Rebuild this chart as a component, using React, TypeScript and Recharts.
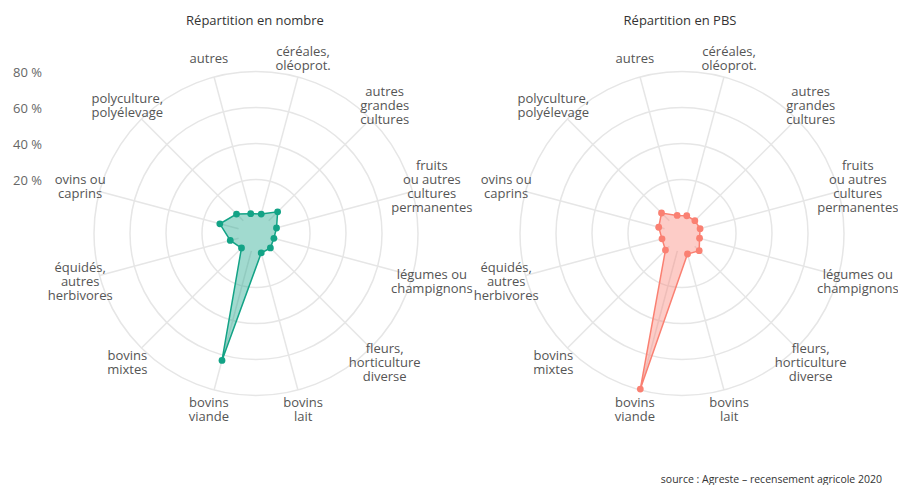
import { RadarChart, Radar, PolarGrid, PolarAngleAxis, PolarRadiusAxis } from "recharts";

// axes, dans le sens horaire à partir de "autres"
const categories = [
  "autres",
  "céréales,\noléoprot.",
  "autres\ngrandes\ncultures",
  "fruits\nou autres\ncultures\npermanentes",
  "légumes ou\nchampignons",
  "fleurs,\nhorticulture\ndiverse",
  "bovins\nlait",
  "bovins\nviande",
  "bovins\nmixtes",
  "équidés,\nautres\nherbivores",
  "ovins ou\ncaprins",
  "polyculture,\npolyélevage",
];

// % des exploitations (nombre)
const nombreValues = [1.4, 1.2, 7.0, 1.8, 0.3, 1.3, 1.2, 63, 1.4, 4.8, 10.8, 5.3];
// % de la production brute standard
const pbsValues = [0.4, 0.2, 0.1, 0.4, 0.1, 3.5, 1.8, 79.5, 3.0, 1.5, 3.4, 6.1];

const radiusTicks = [20, 40, 60, 80];

const data = categories.map((categorie, i) => ({
  categorie,
  nombre: nombreValues[i],
  pbs: pbsValues[i],
}));

const TEAL = "#13a386";
const SALMON = "#fa8072";
const GRID = "#e6e6e6";
const LABEL = "#555";

// one <text> per line so the lines don't stack in a single box
function CategoryTick(props: any) {
  const { x, y, payload } = props;
  const lines = String(payload.value).split("\n");
  const lh = 14;
  const y0 = y - ((lines.length - 1) * lh) / 2;
  return (
    <g>
      {lines.map((l, i) => (
        <text
          key={i}
          x={x}
          y={y0 + i * lh}
          textAnchor="middle"
          dominantBaseline="central"
          fill={LABEL}
          fontSize={13}
        >
          {l}
        </text>
      ))}
    </g>
  );
}

function PercentTick(props: any) {
  const { y, payload } = props;
  return (
    <text x={13} y={y} dominantBaseline="central" fill="#666" fontSize={13}>
      {payload.value} %
    </text>
  );
}

function Radial({
  dataKey,
  color,
  width,
  cx,
  showPercent,
}: {
  dataKey: string;
  color: string;
  width: number;
  cx: number;
  showPercent: boolean;
}) {
  return (
    <RadarChart
      width={width}
      height={485}
      data={data}
      cx={cx}
      cy={233.5}
      innerRadius={18}
      outerRadius={162}
      startAngle={105}
      endAngle={-255}
      margin={{ top: 0, right: 0, bottom: 0, left: 0 }}
    >
      <PolarGrid gridType="circle" stroke={GRID} strokeWidth={1.5} />
      <PolarAngleAxis
        dataKey="categorie"
        tick={<CategoryTick />}
        tickLine={false}
        axisLine={false}
        tickSize={20}
      />
      <PolarRadiusAxis
        angle={90}
        domain={[0, 80]}
        ticks={radiusTicks}
        type="number"
        axisLine={false}
        tickLine={false}
        tick={showPercent ? <PercentTick /> : false}
      />
      <Radar
        dataKey={dataKey}
        stroke={color}
        strokeWidth={1.5}
        fill={color}
        fillOpacity={0.4}
        dot={{ r: 3.4, fill: color, fillOpacity: 1, stroke: color, strokeWidth: 0 }}
        isAnimationActive={false}
      />
    </RadarChart>
  );
}

export default function App() {
  const titleStyle: React.CSSProperties = {
    position: "absolute",
    top: 10,
    width: 300,
    textAlign: "center",
    fontSize: 13,
    fontWeight: 500,
    color: "#333",
    lineHeight: "20px",
  };
  return (
    <div
      style={{
        position: "absolute",
        left: 0,
        top: 0,
        width: 898,
        height: 485,
        background: "#fff",
        fontFamily: "'Open Sans', sans-serif",
        overflow: "hidden",
      }}
    >
      <div style={{ position: "absolute", left: 0, top: 0 }}>
        <Radial dataKey="nombre" color={TEAL} width={474} cx={256} showPercent />
      </div>
      <div style={{ position: "absolute", left: 474, top: 0 }}>
        <Radial dataKey="pbs" color={SALMON} width={424} cx={208} showPercent={false} />
      </div>
      <div style={{ ...titleStyle, left: 255 - 150 }}>Répartition en nombre</div>
      <div style={{ ...titleStyle, left: 680 - 150 }}>Répartition en PBS</div>
      <div
        style={{
          position: "absolute",
          right: 16,
          top: 470,
          fontSize: 10.5,
          color: "#333",
          lineHeight: "18px",
        }}
      >
        source : Agreste – recensement agricole 2020
      </div>
    </div>
  );
}
